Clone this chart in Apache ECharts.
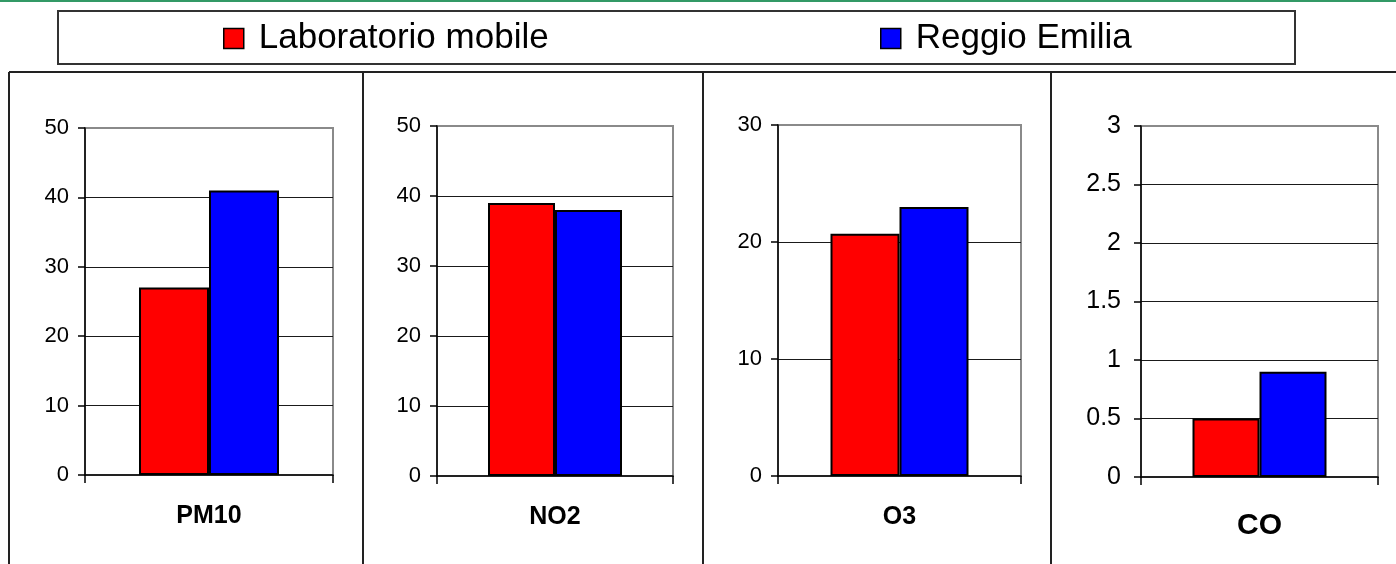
<!DOCTYPE html>
<html>
<head>
<meta charset="utf-8">
<script src="https://cdn.jsdelivr.net/npm/echarts@6/dist/echarts.min.js"></script>
<style>
html,body{margin:0;padding:0;background:#fff;}
#c{width:1396px;height:564px;}
</style>
</head>
<body>
<div id="c"></div>
<script>
// ---- data ----
const categories = ['PM10', 'NO2', 'O3', 'CO'];
const seriesNames = ['Laboratorio mobile', 'Reggio Emilia'];
const laboratorioMobile = [27, 39, 20.7, 0.5];
const reggioEmilia = [41, 38, 23, 0.9];
const axisMax = [50, 50, 30, 3];
const axisInterval = [10, 10, 10, 0.5];

// ---- layout / style ----
const FONT = 'Liberation Sans, Arial, sans-serif';
const grids = [
  {left: 85, width: 248, top: 128, height: 347},
  {left: 437, width: 236, top: 126, height: 350},
  {left: 778, width: 243, top: 125, height: 351},
  {left: 1141, width: 237, top: 126, height: 351}
];
const barWidths = [70, 67, 69, 67];
const yLabelSize = [22, 22, 22, 25];
const yLabelMargin = [16, 16, 16, 20];
const xLabelSize = [25, 25, 25, 30];
const xLabelMargin = [29, 29, 29, 34];

const xAxis = [], yAxis = [], series = [];
grids.forEach((g, i) => {
  g.show = true;
  g.borderColor = '#8a8a8a';
  g.borderWidth = 2;
  g.containLabel = false;
  xAxis.push({
    type: 'category', gridIndex: i, data: [categories[i]],
    axisLine: {lineStyle: {color: '#000', width: 1.5}},
    axisTick: {show: true, length: 8, lineStyle: {color: '#000', width: 1.5}},
    axisLabel: {fontSize: xLabelSize[i], fontWeight: 'bold', color: '#000', fontFamily: FONT, margin: xLabelMargin[i]},
    splitLine: {show: false}
  });
  yAxis.push({
    type: 'value', gridIndex: i, min: 0, max: axisMax[i], interval: axisInterval[i],
    axisLine: {show: true, lineStyle: {color: '#000', width: 1.5}},
    axisTick: {show: true, length: 7, lineStyle: {color: '#000', width: 1.5}},
    axisLabel: {fontSize: yLabelSize[i], color: '#000', fontFamily: FONT, margin: yLabelMargin[i]},
    splitLine: {show: true, showMinLine: false, showMaxLine: false, lineStyle: {color: '#1a1a1a', width: 1}}
  });
  series.push({
    name: seriesNames[0], type: 'bar', xAxisIndex: i, yAxisIndex: i,
    data: [laboratorioMobile[i]], barWidth: barWidths[i], barGap: '0%',
    itemStyle: {color: '#ff0000', borderColor: '#000', borderWidth: 2},
    emphasis: {disabled: true}
  });
  series.push({
    name: seriesNames[1], type: 'bar', xAxisIndex: i, yAxisIndex: i,
    data: [reggioEmilia[i]], barWidth: barWidths[i], barGap: '0%',
    itemStyle: {color: '#0000ff', borderColor: '#000', borderWidth: 2},
    emphasis: {disabled: true}
  });
});

const legendCommon = {
  top: 21, padding: 0, itemWidth: 20, itemHeight: 20, icon: 'rect',
  selectedMode: false,
  itemStyle: {borderColor: '#000', borderWidth: 1.5},
  textStyle: {fontSize: 35, color: '#000', fontFamily: FONT, padding: [0, 0, 0, 10]}
};

const frame = '#222';
const graphic = [
  {type: 'line', shape: {x1: 0, y1: 1, x2: 1396, y2: 1}, style: {stroke: '#339966', lineWidth: 2}, silent: true},
  {type: 'rect', shape: {x: 58, y: 11, width: 1237, height: 53}, style: {fill: 'none', stroke: '#333', lineWidth: 2}, silent: true},
  {type: 'line', shape: {x1: 9, y1: 72, x2: 1396, y2: 72}, style: {stroke: frame, lineWidth: 2}, silent: true},
  {type: 'line', shape: {x1: 9, y1: 72, x2: 9, y2: 564}, style: {stroke: frame, lineWidth: 2}, silent: true},
  {type: 'line', shape: {x1: 363, y1: 72, x2: 363, y2: 564}, style: {stroke: frame, lineWidth: 2}, silent: true},
  {type: 'line', shape: {x1: 703, y1: 72, x2: 703, y2: 564}, style: {stroke: frame, lineWidth: 2}, silent: true},
  {type: 'line', shape: {x1: 1051, y1: 72, x2: 1051, y2: 564}, style: {stroke: frame, lineWidth: 2}, silent: true}
];

const chart = echarts.init(document.getElementById('c'));
chart.setOption({
  animation: false,
  backgroundColor: '#fff',
  textStyle: {fontFamily: FONT},
  legend: [
    Object.assign({}, legendCommon, {data: [seriesNames[0]], left: 223}),
    Object.assign({}, legendCommon, {data: [seriesNames[1]], left: 880})
  ],
  grid: grids,
  xAxis: xAxis,
  yAxis: yAxis,
  series: series,
  graphic: graphic
});
</script>
</body>
</html>
